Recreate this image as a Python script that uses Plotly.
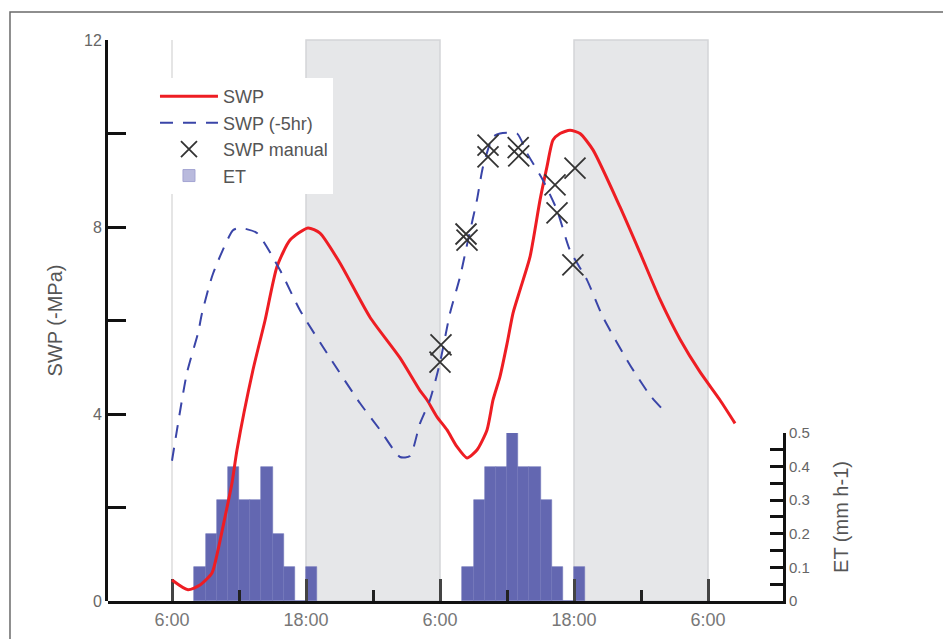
import plotly.graph_objects as go

# ---------------- data ----------------
swp_hours = [6.0, 7.43, 8.51, 9.58, 10.12, 10.75, 11.37, 11.82, 13.25, 14.33, 15.4, 16.57,
             18.18, 19.25, 21.04, 23.73, 26.42, 28.21, 28.84, 29.73, 30.63, 31.52, 32.42,
             33.31, 34.21, 34.75, 35.37, 36.0, 36.54, 37.16, 38.06, 38.96, 39.58, 40.12,
             40.75, 41.64, 42.54, 43.7, 46.12, 47.91, 49.7, 51.49, 53.28, 55.07, 56.42]
swp_values = [0.45, 0.24, 0.34, 0.6, 1.09, 1.8, 2.52, 3.23, 4.94, 6.0, 7.15, 7.72,
              7.98, 7.87, 7.23, 6.07, 5.2, 4.5, 4.3, 3.94, 3.66, 3.3, 3.06,
              3.23, 3.66, 4.3, 4.8, 5.5, 6.16, 6.65, 7.36, 8.58, 9.29, 9.86,
              10.0, 10.07, 10.0, 9.65, 8.43, 7.45, 6.45, 5.6, 4.9, 4.3, 3.8]

swp5_hours = [6.0, 7.34, 8.33, 8.69, 9.67, 11.46, 12.09, 13.61, 15.67, 17.46, 20.15, 22.84,
              24.63, 26.42, 27.31, 28.21, 29.1, 30.0, 30.9, 31.79, 32.51, 33.31, 33.85,
              34.75, 35.37, 36.9, 37.79, 39.22, 40.48, 41.64, 43.16, 44.6, 47.01, 48.81, 49.97]
swp5_values = [3.0, 4.88, 5.73, 6.16, 7.0, 7.93, 7.98, 7.87, 7.08, 6.22, 5.2, 4.23,
               3.66, 3.08, 3.1, 3.8, 4.3, 5.1, 6.16, 6.93, 7.72, 8.58, 9.29,
               9.93, 10.0, 10.0, 9.58, 9.0, 8.36, 7.5, 6.87, 6.07, 5.05, 4.4, 4.09]

manual_hours = [30.09, 30.0, 32.33, 32.42, 34.3, 34.3, 37.0, 37.05, 40.3, 42.09, 40.48, 41.9]
manual_values = [5.48, 5.11, 7.85, 7.72, 9.75, 9.5, 9.7, 9.52, 8.9, 9.26, 8.3, 7.19]

et_hours = [8.5, 9.5, 10.5, 11.5, 12.5, 13.5, 14.5, 15.5, 16.5, 17.5, 18.5,
            32.5, 33.5, 34.5, 35.5, 36.5, 37.5, 38.5, 39.5, 40.5, 41.5, 42.5]
et_values = [0.1, 0.2, 0.3, 0.4, 0.3, 0.3, 0.4, 0.2, 0.1, 0.0, 0.1,
             0.1, 0.3, 0.4, 0.4, 0.5, 0.4, 0.4, 0.3, 0.1, 0.0, 0.1]

x_tick_vals = [6, 18, 30, 42, 54]
x_tick_text = ["6:00", "18:00", "6:00", "18:00", "6:00"]
x_minor_vals = [12, 24, 36, 48]
night_periods = [(18, 30), (42, 54)]
day_start_lines = [6]

swp_tick_vals = [0, 4, 8, 12]
swp_minor_vals = [2, 6, 10]
et_tick_vals = [0, 0.1, 0.2, 0.3, 0.4, 0.5]
et_tick_text = ["0", "0.1", "0.2", "0.3", "0.4", "0.5"]
et_minor_vals = [0.05, 0.15, 0.25, 0.35, 0.45]

FONT = "Liberation Sans, Arial, sans-serif"

fig = go.Figure()

# Lines on y2 (drawn above the bars' subplot)
fig.add_trace(go.Scatter(x=swp_hours, y=swp_values, yaxis="y2", mode="lines",
                         name="SWP", legendgroup="a",
                         line=dict(color="#ee1d23", width=3, shape="spline", smoothing=0.6)))
fig.add_trace(go.Scatter(x=swp5_hours, y=swp5_values, yaxis="y2", mode="lines",
                         name="SWP (-5hr)", legendgroup="b",
                         line=dict(color="#3a45a8", width=2, dash="13px,10px",
                                   shape="spline", smoothing=0.6)))
fig.add_trace(go.Scatter(x=manual_hours, y=manual_values, yaxis="y2", mode="markers",
                         name="SWP manual", legendgroup="c",
                         marker=dict(symbol="x-thin", size=21, color="#333",
                                     line=dict(color="#333", width=1.8))))
# legend swatch for ET
fig.add_trace(go.Bar(x=[None], y=[None], yaxis="y", name="ET", legendgroup="d",
                     marker=dict(color="#b9badd", line=dict(color="#a3a4d2", width=1))))
fig.add_trace(go.Bar(x=et_hours, y=et_values, yaxis="y", name="ET", showlegend=False,
                     width=1.0,
                     marker=dict(color="#6367b1", line=dict(color="#7073b8", width=0.6))))

shapes = []
for a, b in night_periods:
    shapes.append(dict(type="rect", xref="x", yref="paper", x0=a, x1=b, y0=0, y1=1,
                       fillcolor="#e6e7e9", line=dict(color="#d4d5d8", width=1.5),
                       layer="below"))
for d in day_start_lines:
    shapes.append(dict(type="line", xref="x", yref="paper", x0=d, x1=d, y0=0, y1=1,
                       line=dict(color="#dcdcdc", width=1.5), layer="below"))
# outer frame
shapes.append(dict(type="rect", xref="paper", yref="paper", x0=-0.1452, x1=1.4,
                   y0=-0.3, y1=1.0499, line=dict(color="#6a6a6a", width=1.5),
                   fillcolor="rgba(0,0,0,0)", layer="below"))

fig.update_layout(
    width=943, height=631,
    margin=dict(l=100, r=168, t=32, b=38),
    paper_bgcolor="white", plot_bgcolor="rgba(0,0,0,0)",
    font=dict(family=FONT, color="#555"),
    bargap=0,
    shapes=shapes,
    showlegend=True,
    legend=dict(x=0.0696, y=0.932, xanchor="left", yanchor="top",
                bgcolor="white", font=dict(size=18, color="#555", family=FONT),
                traceorder="grouped", tracegroupgap=0, itemwidth=58),
    xaxis=dict(domain=[0, 1], anchor="y", range=[0.269, 60.716], automargin=False,
               tickmode="array", tickvals=x_tick_vals, ticktext=x_tick_text,
               ticks="inside", ticklen=22, tickwidth=2.5, tickcolor="#444",
               minor=dict(tickmode="array", tickvals=x_minor_vals, ticks="inside",
                          ticklen=11, tickwidth=2.5, tickcolor="#222"),
               showline=True, linewidth=3, linecolor="#111",
               showgrid=False, zeroline=False,
               tickfont=dict(size=18, color="#777", family=FONT)),
    yaxis=dict(domain=[0, 0.2995], anchor="x", side="right", range=[0, 0.5],
               automargin=False,
               tickmode="array", tickvals=et_tick_vals, ticktext=et_tick_text,
               ticks="inside", ticklen=13, tickwidth=2.5, tickcolor="#111",
               minor=dict(tickmode="array", tickvals=et_minor_vals, ticks="inside",
                          ticklen=13, tickwidth=2.5, tickcolor="#111"),
               showline=True, linewidth=3, linecolor="#111",
               showgrid=False, zeroline=False,
               tickfont=dict(size=15, color="#666", family=FONT),
               title=dict(text="ET (mm h-1)", font=dict(size=20, color="#555", family=FONT),
                          standoff=26)),
    yaxis2=dict(domain=[0, 1], anchor="x", side="left", range=[0, 12],
                automargin=False,
                tickmode="array", tickvals=swp_tick_vals,
                ticks="inside", ticklen=18, tickwidth=3, tickcolor="#111",
                minor=dict(tickmode="array", tickvals=swp_minor_vals, ticks="inside",
                           ticklen=18, tickwidth=3, tickcolor="#111"),
                showline=True, linewidth=3, linecolor="#111",
                showgrid=False, zeroline=False,
                tickfont=dict(size=16, color="#666", family=FONT),
                title=dict(text="SWP (-MPa)", font=dict(size=20, color="#555", family=FONT),
                           standoff=17)),
)

fig.write_html("out.html")
